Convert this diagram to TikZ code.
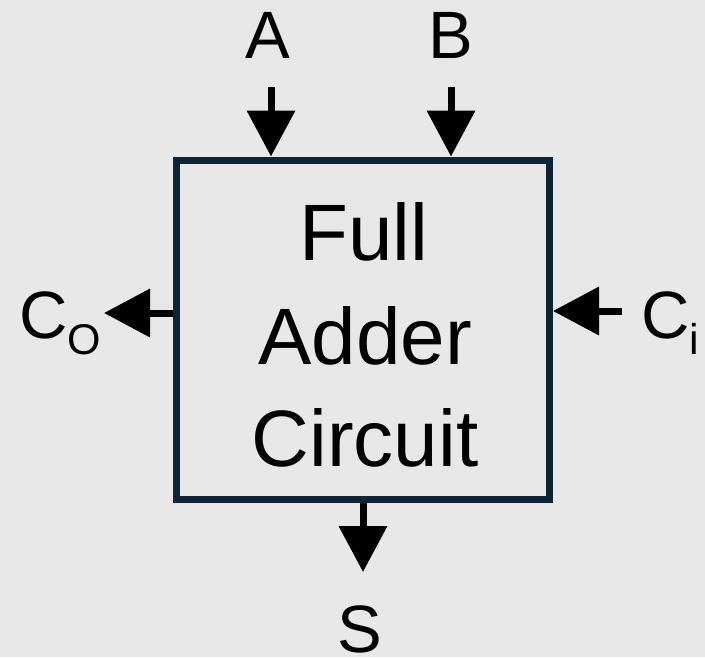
\documentclass[tikz,border=0pt]{standalone}
\usepackage{fontspec}
\setmainfont{Liberation Sans}
\usetikzlibrary{arrows.meta}
\definecolor{bg}{HTML}{E8E8E8}
\definecolor{navy}{HTML}{0B2536}
\begin{document}
\begin{tikzpicture}[x=1pt,y=-1pt,
  boxst/.style={draw=navy, line width=7pt, minimum width=373.5pt, minimum height=339pt, inner sep=0pt},
  arr/.style={line width=7pt, -{Triangle[length=46pt,width=47pt]}, draw=black},
  big/.style={font=\fontsize{80}{96}\selectfont, inner sep=0pt, anchor=base},
  lab/.style={font=\fontsize{67}{80}\selectfont, inner sep=0pt, anchor=base}]
\fill[bg] (0,0) rectangle (705,657);
\useasboundingbox (0,0) rectangle (705,657);
\node[boxst] (fa) at (362.75,329.5) {};
\node[big] (t1) at (364,260) {Full};
\node[big] (t2) at (365,364) {Adder};
\node[big] (t3) at (365,466) {Circuit};
\node[lab] (la) at (268,58) {A};
\node[lab] (lb) at (451,58) {B};
\node[lab] (ls) at (360,652) {S};
\node[lab, anchor=base west] (lco) at (19,338) {C\raisebox{-16pt}{\fontsize{43}{52}\selectfont O}};
\node[lab, anchor=base west] (lci) at (641,338) {C\raisebox{-16pt}{\fontsize{43}{52}\selectfont i}};
\coordinate (aS) at (271,87);
\coordinate (bS) at (451,87);
\coordinate (coE) at (104,313);
\coordinate (ciS) at (622,311);
\coordinate (sE) at (363,572);
\draw[arr] (aS) -- (aS |- fa.north);
\draw[arr] (bS) -- (bS |- fa.north);
\draw[arr] (coE -| fa.west) -- (coE);
\draw[arr] (ciS) -- (ciS -| fa.east);
\draw[arr] (sE |- fa.south) -- (sE);
\end{tikzpicture}
\end{document}
